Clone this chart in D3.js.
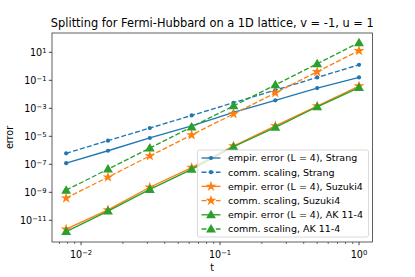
<!DOCTYPE html>
<html>
<head>
<meta charset="utf-8">
<script src="https://cdn.jsdelivr.net/npm/d3@7"></script>
<style>
  body { margin: 0; background: #fff; }
  text { font-family: "DejaVu Sans", sans-serif; fill: #000; }
</style>
</head>
<body>
<div id="chart"></div>
<script>
// step sizes t
var tValues = [1/128, 1/64, 1/32, 1/16, 1/8, 1/4, 1/2, 1];

// errors
var strangEmpir = [1.2e-7, 9.3e-7, 7.6e-6, 5.5e-5, 5.1e-4, 3.7e-3, 2.8e-2, 0.16];
var strangComm  = [6.1e-7, 4.9e-6, 3.9e-5, 3.1e-4, 2.5e-3, 0.020, 0.16, 1.28];
var suzukiEmpir = [2.3e-12, 5.5e-11, 2.3e-9, 5.8e-8, 2.0e-6, 5.5e-5, 1.45e-3, 0.039];
var suzukiComm  = [3.8e-10, 1.21e-8, 3.97e-7, 1.24e-5, 3.97e-4, 0.0127, 0.406, 13];
var akEmpir     = [1.55e-12, 4.6e-11, 1.6e-9, 4.4e-8, 1.8e-6, 4.4e-5, 1.29e-3, 0.030];
var akComm      = [1.41e-9, 4.52e-8, 1.45e-6, 4.63e-5, 1.48e-3, 0.0474, 1.52, 48.5];

var seriesNames = ["empir. error (L = 4), Strang", "comm. scaling, Strang",
                   "empir. error (L = 4), Suzuki4", "comm. scaling, Suzuki4",
                   "empir. error (L = 4), AK 11-4", "comm. scaling, AK 11-4"];

var xTickExps = [-2, -1, 0];
var yTickExps = [1, -1, -3, -5, -7, -9, -11];

var series = [
    {name: seriesNames[0], values: strangEmpir, color: "#1f77b4", dashed: false, marker: "dot"},
    {name: seriesNames[1], values: strangComm,  color: "#1f77b4", dashed: true,  marker: "dot"},
    {name: seriesNames[2], values: suzukiEmpir, color: "#ff7f0e", dashed: false, marker: "star"},
    {name: seriesNames[3], values: suzukiComm,  color: "#ff7f0e", dashed: true,  marker: "star"},
    {name: seriesNames[4], values: akEmpir,     color: "#2ca02c", dashed: false, marker: "tri"},
    {name: seriesNames[5], values: akComm,      color: "#2ca02c", dashed: true,  marker: "tri"}
];

var width = 415, height = 277;
var margin = {left: 52, right: 42.5, top: 33, bottom: 35};

var svg = d3.select("#chart").append("svg")
    .attr("width", width)
    .attr("height", height);

var x = d3.scaleLog()
    .domain([Math.pow(10, -2.209), Math.pow(10, 0.097)])
    .range([margin.left, width - margin.right]);

var y = d3.scaleLog()
    .domain([Math.pow(10, -12.55), Math.pow(10, 2.38)])
    .range([height - margin.bottom, margin.top]);

// title
svg.append("text")
    .attr("x", (margin.left + width - margin.right) / 2)
    .attr("y", 27)
    .attr("text-anchor", "middle")
    .style("font-size", "11.4px")
    .text("Splitting for Fermi-Hubbard on a 1D lattice, v = -1, u = 1");

// x axis with minor ticks
var minorX = [];
[-3, -2, -1, 0].forEach(function(e) {
    for (var k = 2; k <= 9; k++) {
        var v = k * Math.pow(10, e);
        if (v >= x.domain()[0] && v <= x.domain()[1]) minorX.push(v);
    }
});

var xAxisG = svg.append("g")
    .attr("transform", "translate(0," + (height - margin.bottom) + ")");

xAxisG.selectAll("line.minor").data(minorX).enter().append("line")
    .attr("class", "minor")
    .attr("x1", function(d) { return x(d); })
    .attr("x2", function(d) { return x(d); })
    .attr("y1", 0).attr("y2", 2)
    .attr("stroke", "#000").attr("stroke-width", 0.55);

xAxisG.selectAll("line.major").data(xTickExps).enter().append("line")
    .attr("class", "major")
    .attr("x1", function(d) { return x(Math.pow(10, d)); })
    .attr("x2", function(d) { return x(Math.pow(10, d)); })
    .attr("y1", 0).attr("y2", 3.2)
    .attr("stroke", "#000").attr("stroke-width", 0.72);

function powLabel(sel, exp) {
    sel.append("tspan").text("10");
    sel.append("tspan")
        .attr("dy", "-0.45em")
        .style("font-size", "6.8px")
        .text(exp < 0 ? "\u2212" + (-exp) : String(exp));
}

xAxisG.selectAll("text.tick").data(xTickExps).enter().append("text")
    .attr("class", "tick")
    .attr("x", function(d) { return x(Math.pow(10, d)); })
    .attr("y", 16)
    .attr("text-anchor", "middle")
    .style("font-size", "9.6px")
    .each(function(d) { powLabel(d3.select(this), d); });

svg.append("text")
    .attr("x", (margin.left + width - margin.right) / 2)
    .attr("y", 270.5)
    .attr("text-anchor", "middle")
    .style("font-size", "9.6px")
    .text("t");

// y axis
var yAxisG = svg.append("g");

yAxisG.selectAll("line").data(yTickExps).enter().append("line")
    .attr("x1", margin.left - 3.2).attr("x2", margin.left)
    .attr("y1", function(d) { return y(Math.pow(10, d)); })
    .attr("y2", function(d) { return y(Math.pow(10, d)); })
    .attr("stroke", "#000").attr("stroke-width", 0.72);

yAxisG.selectAll("text").data(yTickExps).enter().append("text")
    .attr("x", margin.left - 5.5)
    .attr("y", function(d) { return y(Math.pow(10, d)) + 3.5; })
    .attr("text-anchor", "end")
    .style("font-size", "9.6px")
    .each(function(d) { powLabel(d3.select(this), d); });

svg.append("text")
    .attr("transform", "translate(13," + ((margin.top + height - margin.bottom) / 2) + ") rotate(-90)")
    .attr("text-anchor", "middle")
    .style("font-size", "9.6px")
    .text("error");

// plot area frame
svg.append("rect")
    .attr("x", margin.left)
    .attr("y", margin.top)
    .attr("width", width - margin.left - margin.right)
    .attr("height", height - margin.top - margin.bottom)
    .attr("fill", "none")
    .attr("stroke", "#222")
    .attr("stroke-width", 0.72);

var line = d3.line()
    .x(function(d) { return x(d[0]); })
    .y(function(d) { return y(d[1]); });

var starSym = d3.symbol().type(d3.symbolStar).size(36);
var triSym = d3.symbol().type(d3.symbolTriangle).size(42);

function drawMarker(g, s, cx, cy) {
    if (s.marker === "dot") {
        g.append("circle").attr("cx", cx).attr("cy", cy).attr("r", 2.1).attr("fill", s.color);
    } else if (s.marker === "star") {
        g.append("path").attr("d", starSym).attr("transform", "translate(" + cx + "," + cy + ")")
            .attr("fill", s.color);
    } else {
        g.append("path").attr("d", triSym).attr("transform", "translate(" + cx + "," + (cy + 0.6) + ")")
            .attr("fill", s.color);
    }
}

var plotG = svg.append("g");

series.forEach(function(s) {
    var pts = tValues.map(function(t, i) { return [t, s.values[i]]; });
    var g = plotG.append("g");
    g.append("path")
        .datum(pts)
        .attr("d", line)
        .attr("fill", "none")
        .attr("stroke", s.color)
        .attr("stroke-width", 1.35)
        .attr("stroke-dasharray", s.dashed ? "5,2.2" : null);
    pts.forEach(function(p) { drawMarker(g, s, x(p[0]), y(p[1])); });
});

// legend
var legX = 197.5, legY = 150, legW = 171, legH = 87;
var leg = svg.append("g");
leg.append("rect")
    .attr("x", legX).attr("y", legY)
    .attr("width", legW).attr("height", legH)
    .attr("rx", 2)
    .attr("fill", "#fff").attr("fill-opacity", 0.8)
    .attr("stroke", "#ccc").attr("stroke-width", 0.72);

series.forEach(function(s, i) {
    var ry = legY + 8 + i * 14.2;
    leg.append("line")
        .attr("x1", legX + 4).attr("x2", legX + 23)
        .attr("y1", ry).attr("y2", ry)
        .attr("stroke", s.color).attr("stroke-width", 1.35)
        .attr("stroke-dasharray", s.dashed ? "5,2.2" : null);
    drawMarker(leg, s, legX + 13.5, ry);
    leg.append("text")
        .attr("x", legX + 30.5)
        .attr("y", ry + 3.4)
        .style("font-size", "9.5px")
        .text(s.name);
});
</script>
</body>
</html>
